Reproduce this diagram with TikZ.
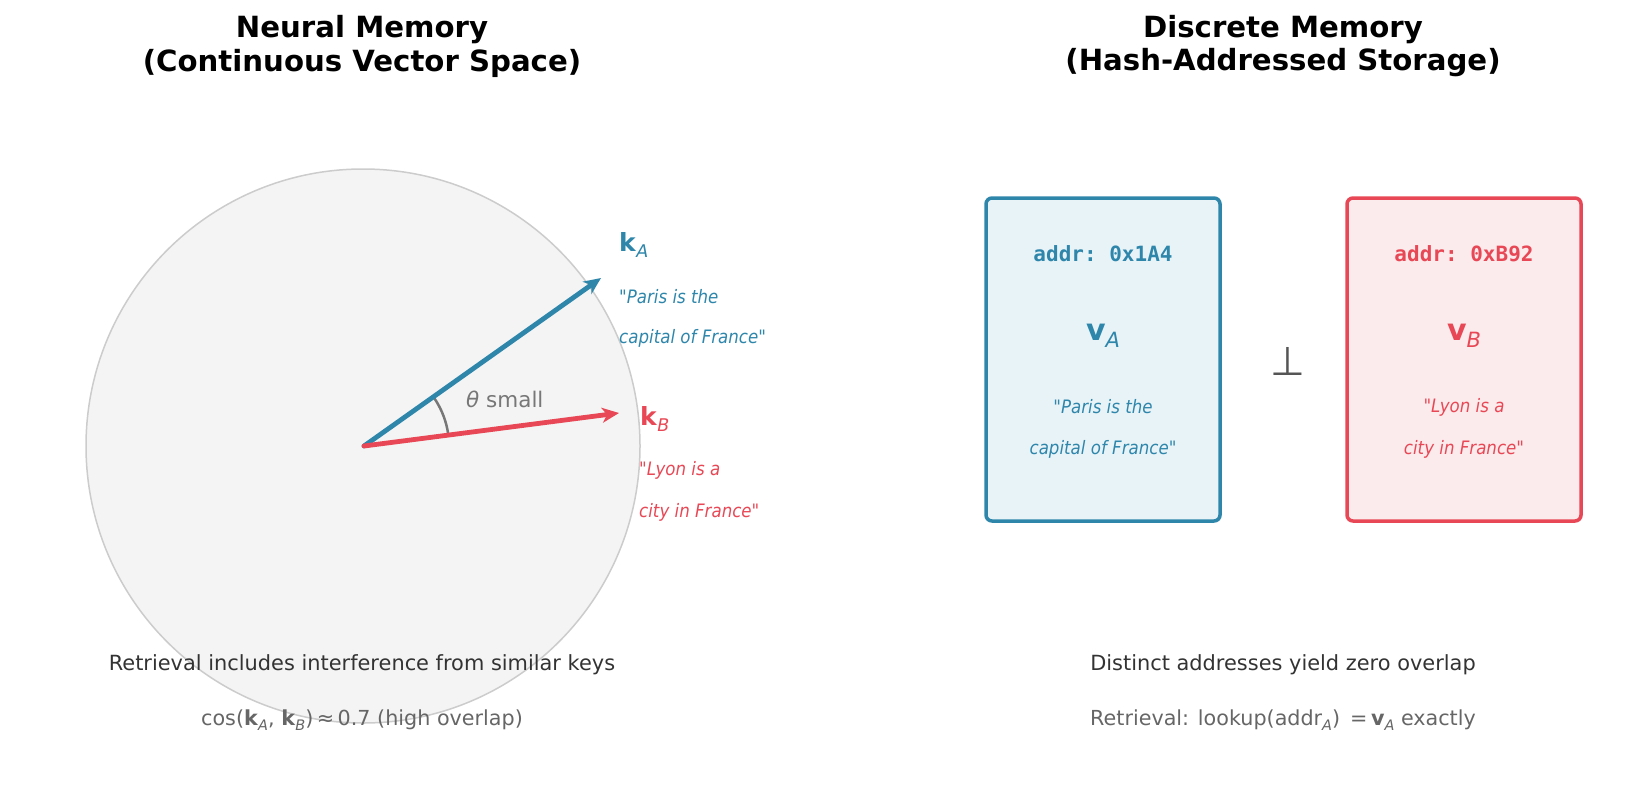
\documentclass[tikz,border=0pt]{standalone}
\usepackage{fontspec}
\setmainfont{DejaVu Sans}
\setmonofont{DejaVu Sans Mono}
\newfontfamily\qfont[FakeStretch=0.9]{DejaVu Sans}
\usetikzlibrary{arrows.meta}
\definecolor{cblue}{HTML}{2E86AB}
\definecolor{cred}{HTML}{E84855}
\definecolor{lblue}{HTML}{E8F3F8}
\definecolor{lred}{HTML}{FCEBEC}
\definecolor{cfill}{HTML}{F4F4F4}
\definecolor{cedge}{HTML}{CCCCCC}
\definecolor{dtext}{HTML}{333333}
\definecolor{gtext}{HTML}{666666}
\definecolor{ctheta}{HTML}{777777}
\definecolor{cperp}{HTML}{555555}
\newcommand{\sbs}[1]{\raisebox{-0.22em}{\scalebox{0.7}{\itshape #1}}}
\newcommand{\fs}[1]{\fontsize{#1}{#1}\selectfont}
\tikzset{
  title/.style={font=\fs{29.2}\bfseries, text=black, inner sep=0},
  vecline/.style={line width=4.8, line cap=round, -{Stealth[length=17, width=15, inset=5]}},
  klabel/.style={font=\fs{25}, anchor=west, inner sep=0},
  quote/.style={font=\fs{18.5}\qfont\itshape, inner sep=0},
  note/.style={font=\fs{20.9}, text=dtext, inner sep=0},
  subnote/.style={font=\fs{20.7}, text=gtext, inner sep=0},
  membox/.style={rounded corners=6, line width=3.5, minimum width=234, minimum height=323, inner sep=0},
  addr/.style={font=\fs{21}\ttfamily\bfseries, inner sep=0},
  vlabel/.style={font=\fs{30}, inner sep=0},
}
\begin{document}
\begin{tikzpicture}[x=1pt, y=-1pt]
\useasboundingbox (0,0) rectangle (1645,809);
% titles
\node[title] (t1a) at (362,30) {Neural Memory};
\node[title] (t1b) at (362,63) {(Continuous Vector Space)};
\node[title] (t2a) at (1283,30) {Discrete Memory};
\node[title] (t2b) at (1283,63) {(Hash-Addressed Storage)};
% circle
\draw[fill=cfill, draw=cedge, line width=1.5] (363,446) circle[radius=277];
\coordinate (o) at (364,446);
\coordinate (tA) at (601,278);
\coordinate (tB) at (619,413);
\draw[ctheta, line width=2.5] plot[domain=7.4:35.3, samples=30] ({364+85*cos(\x)},{446-85*sin(\x)});
\draw[vecline, cblue] (o) -- (tA);
\draw[vecline, cred] (o) -- (tB);
\node[font=\fs{21.5}, text=ctheta, anchor=west, inner sep=0] (th) at (466,399) {{\itshape θ} small};
\node[klabel, text=cblue] (kA) at (619,245) {\textbf{k}\sbs{A}};
\node[quote, text=cblue, anchor=west] (qa1) at (619,297) {"Paris is the};
\node[quote, text=cblue, anchor=west] (qa2) at (619,338) {capital of France"};
\node[klabel, text=cred] (kB) at (640,419) {\textbf{k}\sbs{B}};
\node[quote, text=cred, anchor=west] (qb1) at (639,470) {"Lyon is a};
\node[quote, text=cred, anchor=west] (qb2) at (639,512) {city in France"};
% left notes
\node[note] (n1) at (362,665) {Retrieval includes interference from similar keys};
\node[subnote] (n2) at (362,720) {cos(\textbf{k}\sbs{A}, \textbf{k}\sbs{B})\,≈\,0.7 (high overlap)};
% boxes
\node[membox, draw=cblue, fill=lblue] (bA) at (1103,359.5) {};
\node[membox, draw=cred, fill=lred] (bB) at (1464,359.5) {};
\node[addr, text=cblue] (aA) at (1103,254) {addr: 0x1A4};
\node[addr, text=cred] (aB) at (1464,254) {addr: 0xB92};
\node[vlabel, text=cblue] (vA) at (1103,336) {\textbf{v}\sbs{A}};
\node[vlabel, text=cred] (vB) at (1464,336) {\textbf{v}\sbs{B}};
\node[quote, text=cblue] (ba1) at (1103,407) {"Paris is the};
\node[quote, text=cblue] (ba2) at (1103,449) {capital of France"};
\node[quote, text=cred] (bb1) at (1464,407) {"Lyon is a};
\node[quote, text=cred] (bb2) at (1464,449) {city in France"};
\node[font=\fs{40}, text=cperp, inner sep=0] (perp) at (1288,361) {⊥};
% right notes
\node[note] (n3) at (1283,665) {Distinct addresses yield zero overlap};
\node[subnote] (n4) at (1283,720) {Retrieval: lookup(addr\sbs{A}) \,=\,\textbf{v}\sbs{A} exactly};
\end{tikzpicture}
\end{document}
